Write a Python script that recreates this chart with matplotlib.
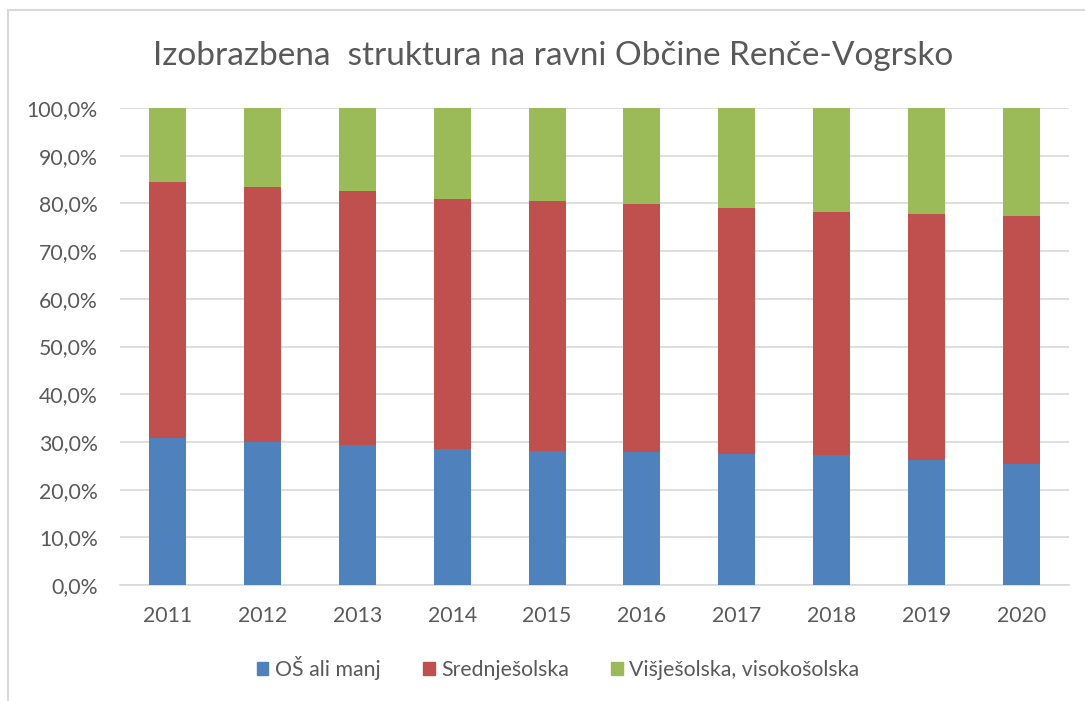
import matplotlib.pyplot as plt
from matplotlib.patches import Rectangle
from matplotlib.ticker import FuncFormatter, MultipleLocator
import numpy as np

years = ["2011", "2012", "2013", "2014", "2015", "2016", "2017", "2018", "2019", "2020"]
os_share = [30.8, 30.0, 29.4, 28.6, 28.1, 27.8, 27.5, 27.3, 26.2, 25.3]
srednje_share = [53.7, 53.4, 53.2, 52.4, 52.4, 52.1, 51.6, 51.0, 51.6, 52.0]
visje_share = [15.5, 16.6, 17.4, 19.0, 19.5, 20.1, 20.9, 21.7, 22.2, 22.7]
series_names = ["OŠ ali manj", "Srednješolska", "Višješolska, visokošolska"]
colors = ["#4F81BD", "#C0504D", "#9BBB59"]
title = "Izobrazbena  struktura na ravni Občine Renče-Vogrsko"

plt.rcParams['font.family'] = ['Lato', 'DejaVu Sans']
txt = "#595959"

W, H = 1085, 701
fig = plt.figure(figsize=(W / 100, H / 100), dpi=100)
fig.patch.set_facecolor("white")

# chart border
fig.patches.append(Rectangle((8 / W, -0.05), 1.2, (H - 10) / H + 0.05, transform=fig.transFigure,
                             fill=False, edgecolor="#D9D9D9", linewidth=1.5))

left, right, bottom, top = 120, 1069, 585, 108
ax = fig.add_axes([left / W, 1 - bottom / H, (right - left) / W, (bottom - top) / H])

x = np.arange(len(years))
bw = 0.39
b1 = np.array(os_share)
b2 = b1 + np.array(srednje_share)
ax.bar(x, os_share, bw, color=colors[0], label=series_names[0], zorder=3)
ax.bar(x, srednje_share, bw, bottom=b1, color=colors[1], label=series_names[1], zorder=3)
ax.bar(x, visje_share, bw, bottom=b2, color=colors[2], label=series_names[2], zorder=3)

ax.set_xlim(-0.5, len(years) - 0.5)
ax.set_ylim(0, 100)
ax.yaxis.set_major_locator(MultipleLocator(10))
ax.yaxis.set_major_formatter(FuncFormatter(lambda v, p: f"{v:.1f}%".replace(".", ",")))
ax.set_xticks(x)
ax.set_xticklabels(years)
ax.grid(axis="y", color="#D9D9D9", linewidth=1.2, zorder=0)
for s in ["top", "right", "left"]:
    ax.spines[s].set_visible(False)
ax.spines["bottom"].set_color("#D9D9D9")
ax.spines["bottom"].set_linewidth(1.2)
ax.tick_params(axis="both", length=0, labelsize=15.3, colors=txt)
ax.tick_params(axis="y", pad=16)
ax.tick_params(axis="x", pad=15)

fig.text(553 / W, 1 - 56 / H, title, ha="center", va="center", fontsize=24, color=txt)

handles = [Rectangle((0, 0), 1, 1, color=c) for c in colors]
fig.legend(handles, series_names, loc="center", bbox_to_anchor=(558 / W, 1 - 668 / H), ncol=3,
           frameon=False, fontsize=15.3, labelcolor=txt, handlelength=0.55, handleheight=0.55,
           handletextpad=0.3, columnspacing=2.0)

fig.savefig("out.png", dpi=100)
